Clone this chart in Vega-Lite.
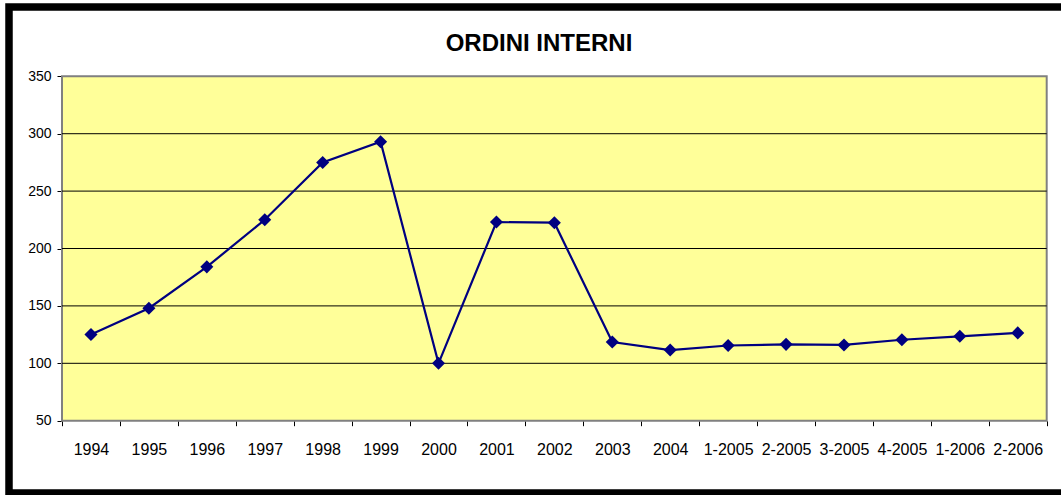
{
  "$schema": "https://vega.github.io/schema/vega-lite/v6.json",
  "autosize": "none",
  "width": 1060,
  "height": 486,
  "padding": {"left": 9, "top": 7, "right": -8, "bottom": 2},
  "background": "white",
  "config": {
    "view": {"stroke": "black", "strokeWidth": 7.5, "fill": "white"},
    "font": "Liberation Sans"
  },
  "title": {
    "text": "ORDINI INTERNI",
    "fontSize": 24,
    "fontWeight": "bold",
    "font": "Liberation Sans",
    "color": "black",
    "anchor": "middle",
    "baseline": "alphabetic",
    "offset": -68
  },
  "datasets": {
    "ordini": [
      {"periodo": "1994", "valore": 125},
      {"periodo": "1995", "valore": 148},
      {"periodo": "1996", "valore": 184},
      {"periodo": "1997", "valore": 225},
      {"periodo": "1998", "valore": 275},
      {"periodo": "1999", "valore": 293},
      {"periodo": "2000", "valore": 100},
      {"periodo": "2001", "valore": 223},
      {"periodo": "2002", "valore": 222.5},
      {"periodo": "2003", "valore": 118.5},
      {"periodo": "2004", "valore": 111.5},
      {"periodo": "1-2005", "valore": 115.5},
      {"periodo": "2-2005", "valore": 116.5},
      {"periodo": "3-2005", "valore": 116},
      {"periodo": "4-2005", "valore": 120.5},
      {"periodo": "1-2006", "valore": 123.5},
      {"periodo": "2-2006", "valore": 126.5}
    ],
    "griglia": [
      {"livello": 100},
      {"livello": 150},
      {"livello": 200},
      {"livello": 250},
      {"livello": 300}
    ]
  },
  "resolve": {"scale": {"x": "independent"}, "axis": {"x": "independent"}},
  "layer": [
    {
      "layer": [
        {
          "data": {"values": [{}]},
          "mark": {"type": "rect", "fill": "#FFFF99", "stroke": "#808080", "strokeWidth": 2},
          "encoding": {
            "x": {"datum": -0.5, "type": "quantitative", "scale": {"domain": [-1.415, 16.885], "nice": false, "zero": false}, "axis": null},
            "x2": {"datum": 16.5},
            "y": {
              "datum": 50,
              "type": "quantitative",
              "scale": {"domain": [-12.98, 410.37], "nice": false, "zero": false},
              "axis": {
                "values": [50, 100, 150, 200, 250, 300, 350],
                "offset": -53,
                "domain": false,
                "grid": false,
                "ticks": true,
                "tickSize": 5,
                "tickColor": "black",
                "tickWidth": 1,
                "labelFontSize": 14,
                "labelFont": "Liberation Sans",
                "labelColor": "black",
                "labelPadding": 6,
                "labelFlush": false,
                "labelBound": false,
                "labelOverlap": false,
                "title": null
              }
            },
            "y2": {"datum": 350}
          }
        },
        {
          "data": {"name": "griglia"},
          "mark": {"type": "rule", "color": "black", "strokeWidth": 1},
          "encoding": {
            "x": {"datum": -0.5, "type": "quantitative", "scale": {"domain": [-1.415, 16.885], "nice": false, "zero": false}, "axis": null},
            "x2": {"datum": 16.5},
            "y": {"field": "livello", "type": "quantitative", "scale": {"domain": [-12.98, 410.37], "nice": false, "zero": false}}
          }
        }
      ]
    },
    {
      "data": {"name": "ordini"},
      "encoding": {
        "x": {
          "field": "periodo",
          "type": "nominal",
          "sort": null,
          "scale": {"type": "band", "paddingInner": 0, "paddingOuter": 0.65, "align": 0.704},
          "axis": {
            "orient": "bottom",
            "offset": -72.3,
            "domain": false,
            "grid": false,
            "tickBand": "extent",
            "ticks": true,
            "tickSize": 5,
            "tickColor": "black",
            "tickWidth": 1,
            "labelFontSize": 16,
            "labelFont": "Liberation Sans",
            "labelColor": "black",
            "labelPadding": 16,
            "labelAngle": 0,
            "labelOverlap": false,
            "labelBound": false,
            "labelFlush": false,
            "title": null
          }
        },
        "y": {"field": "valore", "type": "quantitative", "scale": {"domain": [-12.98, 410.37], "nice": false, "zero": false}}
      },
      "layer": [
        {"mark": {"type": "line", "color": "#000080", "strokeWidth": 2.2}},
        {"mark": {"type": "point", "shape": "diamond", "filled": true, "size": 170, "color": "#000080", "opacity": 1}}
      ]
    }
  ]
}
